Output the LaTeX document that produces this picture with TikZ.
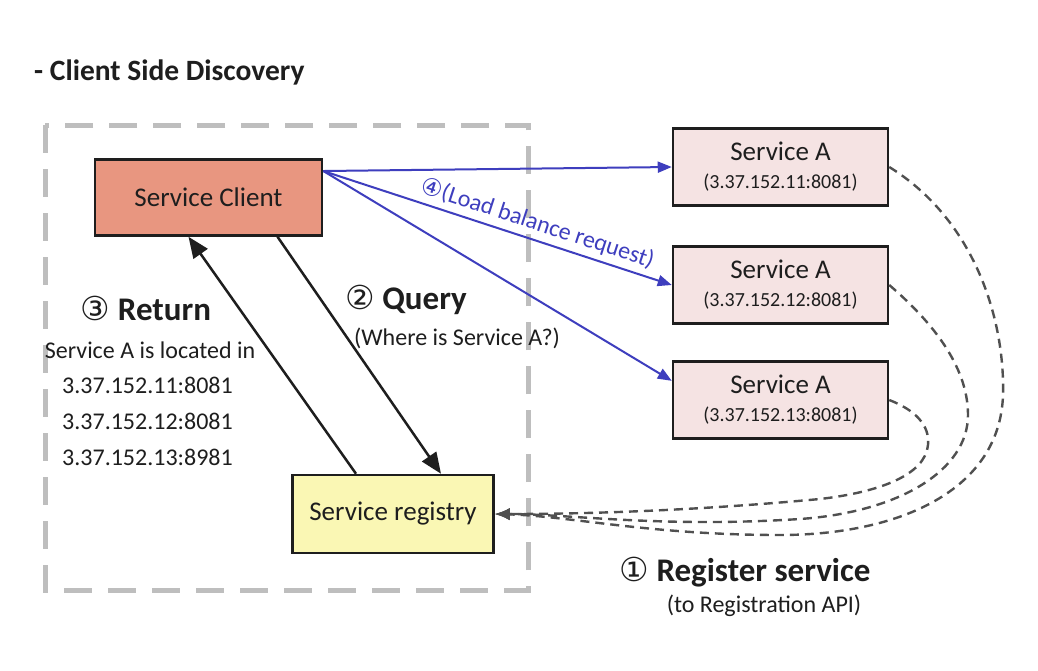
\documentclass[tikz,border=0pt]{standalone}
\usepackage{fontspec}
\setmainfont{Carlito}
\newfontfamily\circfont{DejaVu Sans}
\usetikzlibrary{arrows.meta}

\definecolor{clientfill}{RGB}{232,150,128}
\definecolor{regfill}{RGB}{250,247,180}
\definecolor{svcfill}{RGB}{245,227,227}
\definecolor{lbblue}{RGB}{62,62,190}
\definecolor{framegray}{RGB}{190,190,190}
\definecolor{curvegray}{RGB}{80,80,80}
\definecolor{ink}{RGB}{30,30,30}

\newcommand{\boxfont}{\fontsize{27}{30}\selectfont}
\newcommand{\ipfont}{\fontsize{20}{24}\selectfont}
\newcommand{\txtfont}{\fontsize{24}{28}\selectfont}
\newcommand{\headfont}{\fontsize{33}{36}\selectfont}

\tikzset{
  box/.style={draw=ink, line width=2.5pt, inner sep=0pt, text=ink, font=\boxfont, align=center},
  clientbox/.style={box, fill=clientfill, minimum width=227pt, minimum height=76pt},
  regbox/.style={box, fill=regfill, minimum width=201pt, minimum height=78pt},
  svcbox/.style={box, fill=svcfill, minimum width=215pt, minimum height=77pt},
  groupframe/.style={draw=framegray, line width=5pt, dash pattern=on 28pt off 16pt},
  msgline/.style={draw=ink, line width=2.5pt, -{Triangle[length=21pt,width=17pt]}},
  lbline/.style={draw=lbblue, line width=2pt, -{Triangle[length=14pt,width=11pt]}},
  regline/.style={draw=curvegray, line width=2.4pt, dash pattern=on 9pt off 6pt, -{Latex[length=15pt,width=12pt]}},
  txt/.style={text=ink, font=\txtfont, inner sep=0pt},
  head/.style={text=ink, font=\headfont\bfseries, inner sep=0pt}
}

\begin{document}
\begin{tikzpicture}[x=1pt,y=-1pt]
\useasboundingbox[fill=white] (0,0) rectangle (1038,670);

% title
\node[head, anchor=west, font=\fontsize{29.5}{32}\selectfont\bfseries] (title) at (34,72) {- Client Side Discovery};

% client side frame
\draw[groupframe] (45,125) rectangle (528,590);

% boxes
\node[clientbox] (client) at (208.5,197.5) {Service Client};
\node[regbox] (registry) at (393,514) {Service registry};
\foreach \n/\y/\ip in {svca/167/11, svcb/285/12, svcc/400/13}
  \node[svcbox] (\n) at (780.5,\y) {Service A\\[-2pt]{\ipfont(3.37.152.\ip:8081)}};

% query and return
\draw[msgline] ([xshift=69pt]client.south) -- ([xshift=48pt]registry.north);
\draw[msgline] ([xshift=-37pt]registry.north) -- ([xshift=-20pt]client.south);

% load balance requests
\draw[lbline] (client.13) -- (svca.west);
\draw[lbline] (client.13) -- (svcb.west)
  node[pos=0.6, sloped, above=5pt, text=lbblue, font=\txtfont, inner sep=0pt] (lblabel) {{\circfont ④}(Load balance request)};
\draw[lbline] (client.13) -- (svcc.170);

% registration
\draw[regline] (svca.east) .. controls (975,220) and (1005,320) .. (1003,395)
  .. controls (1000,490) and (900,535) .. (780,535)
  .. controls (650,535) and (570,516) .. (registry.east);
\draw[regline] (svcb.east) .. controls (930,320) and (968,365) .. (968,415)
  .. controls (968,470) and (900,512) .. (800,519)
  .. controls (660,528) and (570,514) .. (registry.east);
\draw[regline] (svcc.east) .. controls (915,410) and (930,425) .. (928,445)
  .. controls (925,475) and (880,492) .. (820,499)
  .. controls (680,512) and (570,514) .. (registry.east);

% labels
\node[head] (returnlbl) at (146,308) {{\circfont\mdseries ③} Return};
\node[txt] (located) at (150,350) {Service A is located in};
\foreach \y/\ip in {385/11:8081, 421/12:8081, 457/13:8981}
  \node[txt, anchor=west] at (62,\y) {3.37.152.\ip};
\node[head] (querylbl) at (406,300) {{\circfont\mdseries ②} Query};
\node[txt] (where) at (457,338) {(Where is Service A?)};
\node[head] (registerlbl) at (745,572) {{\circfont\mdseries ①} Register service};
\node[txt] (regapi) at (764,606) {(to Registration API)};

\end{tikzpicture}
\end{document}
